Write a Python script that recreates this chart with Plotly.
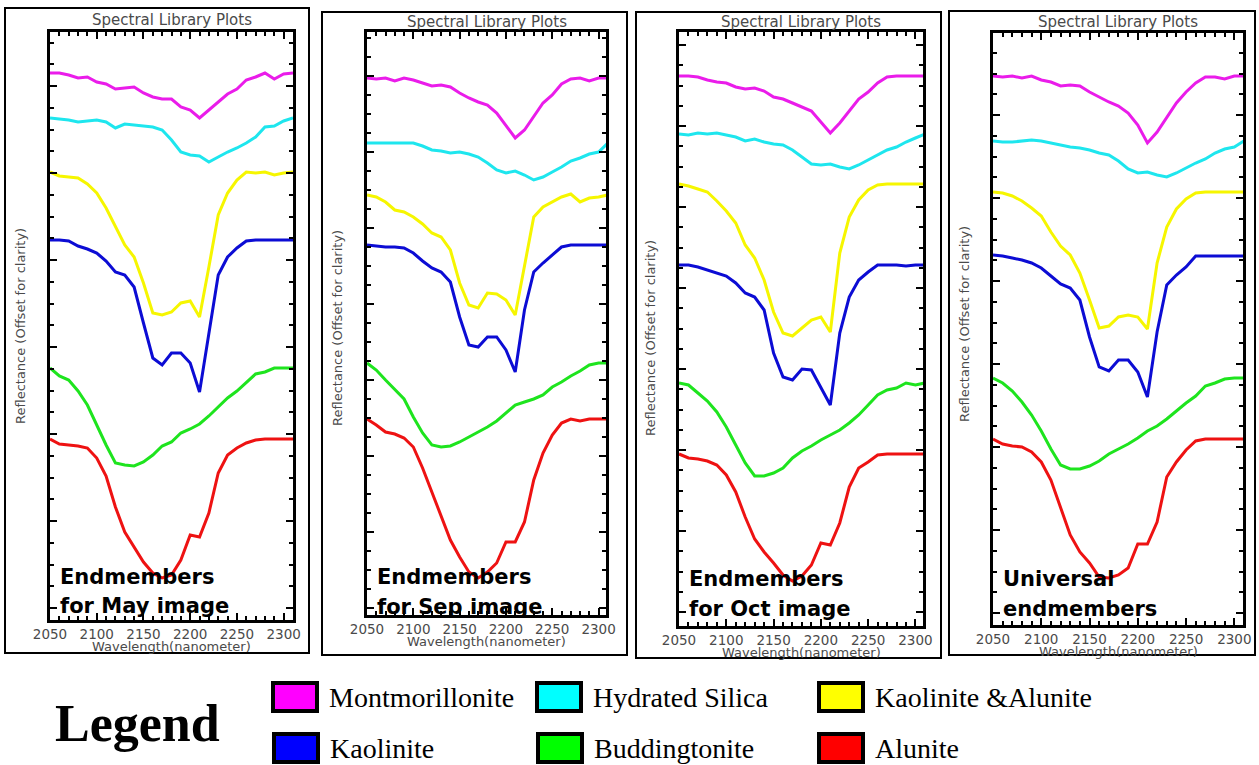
import plotly.graph_objects as go

# ---------------------------------------------------------------- data
WAVELENGTH = [2050, 2060, 2070, 2080, 2090, 2100, 2110, 2120, 2130, 2140,
              2150, 2160, 2170, 2180, 2190, 2200, 2210, 2220, 2230, 2240,
              2250, 2260, 2270, 2280, 2290, 2300, 2310]

MINERALS = ["Montmorillonite", "Hydrated Silica", "Kaolinite &Alunite",
            "Kaolinite", "Buddingtonite", "Alunite"]

# Offset reflectance, May image endmembers
MAY_MONTMORILLONITE = [0.547, 0.547, 0.545, 0.542, 0.543, 0.538, 0.536, 0.531, 0.532, 0.533, 0.527, 0.523, 0.521, 0.521,
                       0.513, 0.510, 0.502, 0.510, 0.518, 0.526, 0.531, 0.540, 0.543, 0.547, 0.541, 0.546, 0.547]
MAY_HYDRATED_SILICA = [0.502, 0.501, 0.500, 0.498, 0.499, 0.500, 0.498, 0.492, 0.496, 0.495, 0.494, 0.493, 0.490, 0.480,
                       0.468, 0.465, 0.464, 0.458, 0.463, 0.468, 0.472, 0.477, 0.483, 0.493, 0.494, 0.499, 0.502]
MAY_KAOLINITE_ALUNITE = [0.448, 0.444, 0.443, 0.442, 0.436, 0.427, 0.412, 0.393, 0.375, 0.363, 0.337, 0.307, 0.305, 0.308,
                         0.317, 0.319, 0.303, 0.353, 0.405, 0.427, 0.440, 0.448, 0.447, 0.448, 0.445, 0.447, 0.448]
MAY_KAOLINITE = [0.380, 0.380, 0.379, 0.374, 0.371, 0.367, 0.359, 0.348, 0.345, 0.333, 0.297, 0.262, 0.255, 0.267,
                 0.267, 0.257, 0.228, 0.287, 0.345, 0.363, 0.372, 0.379, 0.380, 0.380, 0.380, 0.380, 0.380]
MAY_BUDDINGTONITE = [0.252, 0.244, 0.240, 0.229, 0.215, 0.195, 0.175, 0.157, 0.155, 0.154, 0.158, 0.165, 0.174, 0.178,
                     0.187, 0.191, 0.196, 0.204, 0.213, 0.222, 0.229, 0.238, 0.246, 0.248, 0.252, 0.252, 0.252]
MAY_ALUNITE = [0.181, 0.176, 0.175, 0.174, 0.172, 0.162, 0.144, 0.113, 0.088, 0.073, 0.058, 0.047, 0.042, 0.045,
               0.060, 0.085, 0.083, 0.107, 0.147, 0.165, 0.172, 0.177, 0.180, 0.181, 0.181, 0.181, 0.181]

# Offset reflectance, September image endmembers
SEP_MONTMORILLONITE = [0.537, 0.536, 0.537, 0.534, 0.537, 0.535, 0.532, 0.529, 0.530, 0.528, 0.522, 0.517, 0.513, 0.510,
                       0.502, 0.490, 0.477, 0.485, 0.498, 0.512, 0.520, 0.531, 0.536, 0.537, 0.534, 0.537, 0.537]
SEP_HYDRATED_SILICA = [0.472, 0.472, 0.472, 0.472, 0.472, 0.472, 0.469, 0.465, 0.464, 0.462, 0.463, 0.461, 0.458, 0.452,
                       0.445, 0.442, 0.444, 0.440, 0.435, 0.438, 0.443, 0.448, 0.454, 0.457, 0.461, 0.463, 0.472]
SEP_KAOLINITE_ALUNITE = [0.420, 0.418, 0.413, 0.405, 0.403, 0.398, 0.391, 0.382, 0.378, 0.365, 0.332, 0.310, 0.307, 0.322,
                         0.321, 0.315, 0.300, 0.348, 0.398, 0.408, 0.413, 0.418, 0.421, 0.413, 0.417, 0.418, 0.420]
SEP_KAOLINITE = [0.370, 0.369, 0.368, 0.368, 0.367, 0.362, 0.354, 0.347, 0.343, 0.333, 0.298, 0.270, 0.268, 0.278,
                 0.278, 0.265, 0.243, 0.305, 0.343, 0.352, 0.360, 0.368, 0.370, 0.370, 0.370, 0.370, 0.370]
SEP_BUDDINGTONITE = [0.252, 0.245, 0.235, 0.226, 0.216, 0.198, 0.182, 0.170, 0.168, 0.169, 0.173, 0.178, 0.183, 0.188,
                     0.194, 0.202, 0.210, 0.213, 0.216, 0.220, 0.228, 0.233, 0.239, 0.244, 0.250, 0.252, 0.252]
SEP_ALUNITE = [0.196, 0.190, 0.183, 0.181, 0.177, 0.168, 0.147, 0.123, 0.097, 0.075, 0.058, 0.043, 0.037, 0.043,
               0.052, 0.073, 0.073, 0.093, 0.135, 0.162, 0.180, 0.192, 0.196, 0.194, 0.196, 0.196, 0.196]

# Offset reflectance, October image endmembers
OCT_MONTMORILLONITE = [0.550, 0.550, 0.549, 0.546, 0.544, 0.543, 0.539, 0.537, 0.538, 0.535, 0.529, 0.527, 0.523, 0.519,
                       0.515, 0.504, 0.493, 0.503, 0.515, 0.527, 0.534, 0.543, 0.549, 0.550, 0.550, 0.550, 0.550]
OCT_HYDRATED_SILICA = [0.492, 0.491, 0.493, 0.492, 0.493, 0.491, 0.489, 0.485, 0.487, 0.484, 0.482, 0.481, 0.476, 0.469,
                       0.462, 0.461, 0.462, 0.459, 0.457, 0.461, 0.466, 0.471, 0.476, 0.479, 0.484, 0.488, 0.492]
OCT_KAOLINITE_ALUNITE = [0.442, 0.440, 0.437, 0.434, 0.425, 0.415, 0.403, 0.381, 0.368, 0.346, 0.314, 0.293, 0.290, 0.298,
                         0.306, 0.309, 0.294, 0.373, 0.409, 0.426, 0.436, 0.441, 0.442, 0.442, 0.442, 0.442, 0.442]
OCT_KAOLINITE = [0.361, 0.361, 0.359, 0.356, 0.353, 0.350, 0.343, 0.333, 0.329, 0.316, 0.273, 0.249, 0.246, 0.257,
                 0.256, 0.239, 0.221, 0.293, 0.329, 0.346, 0.354, 0.361, 0.361, 0.361, 0.360, 0.361, 0.361]
OCT_BUDDINGTONITE = [0.243, 0.241, 0.233, 0.225, 0.214, 0.199, 0.181, 0.163, 0.150, 0.150, 0.153, 0.158, 0.168, 0.175,
                     0.180, 0.186, 0.191, 0.196, 0.203, 0.211, 0.221, 0.231, 0.236, 0.238, 0.243, 0.241, 0.243]
OCT_ALUNITE = [0.172, 0.168, 0.167, 0.165, 0.161, 0.151, 0.134, 0.109, 0.087, 0.074, 0.063, 0.051, 0.045, 0.050,
               0.061, 0.083, 0.081, 0.103, 0.139, 0.158, 0.164, 0.171, 0.172, 0.172, 0.172, 0.172, 0.172]

# Offset reflectance, universal endmembers
UNI_MONTMORILLONITE = [0.549, 0.548, 0.549, 0.547, 0.549, 0.545, 0.543, 0.539, 0.540, 0.539, 0.533, 0.528, 0.523, 0.519,
                       0.512, 0.500, 0.482, 0.493, 0.508, 0.522, 0.533, 0.542, 0.548, 0.548, 0.546, 0.549, 0.549]
UNI_HYDRATED_SILICA = [0.484, 0.483, 0.483, 0.484, 0.485, 0.484, 0.482, 0.480, 0.478, 0.477, 0.475, 0.472, 0.470, 0.464,
                       0.456, 0.452, 0.453, 0.450, 0.448, 0.452, 0.457, 0.462, 0.466, 0.472, 0.476, 0.478, 0.484]
UNI_KAOLINITE_ALUNITE = [0.433, 0.432, 0.429, 0.424, 0.417, 0.409, 0.393, 0.379, 0.370, 0.352, 0.325, 0.297, 0.299, 0.308,
                         0.310, 0.308, 0.296, 0.362, 0.398, 0.416, 0.426, 0.432, 0.433, 0.433, 0.433, 0.433, 0.433]
UNI_KAOLINITE = [0.370, 0.369, 0.367, 0.365, 0.362, 0.357, 0.349, 0.341, 0.337, 0.325, 0.288, 0.258, 0.254, 0.265,
                 0.265, 0.253, 0.228, 0.293, 0.340, 0.350, 0.358, 0.369, 0.369, 0.369, 0.369, 0.369, 0.369]
UNI_BUDDINGTONITE = [0.247, 0.242, 0.234, 0.223, 0.210, 0.194, 0.176, 0.160, 0.156, 0.156, 0.159, 0.164, 0.171, 0.176,
                     0.181, 0.187, 0.194, 0.199, 0.206, 0.214, 0.222, 0.229, 0.239, 0.242, 0.246, 0.247, 0.247]
UNI_ALUNITE = [0.186, 0.181, 0.179, 0.178, 0.173, 0.163, 0.145, 0.117, 0.090, 0.073, 0.062, 0.048, 0.047, 0.050,
               0.057, 0.081, 0.081, 0.103, 0.148, 0.163, 0.175, 0.184, 0.186, 0.186, 0.186, 0.186, 0.186]

# ---------------------------------------------------------------- style
W, H = 1259, 765
LINE_COLORS = ["#ea1cea", "#1ee6ee", "#f6f600", "#0c0cd4", "#1ee41e", "#ee1212"]
SWATCH_COLORS = ["#ff00ff", "#00ffff", "#ffff00", "#0000ff", "#00ff00", "#ff0000"]
AXIS_FONT = "DejaVu Sans"
AXIS_GREY = "#4a4a4a"


def fx(p):
    return p / W


def fy(p):
    return 1 - p / H


# frame box, plot area (left, top, right, bottom in pixels), x extent, y scale
PANELS = [
    dict(series=[MAY_MONTMORILLONITE, MAY_HYDRATED_SILICA, MAY_KAOLINITE_ALUNITE,
                 MAY_KAOLINITE, MAY_BUDDINGTONITE, MAY_ALUNITE],
         caption=["Endmembers", "for May image"], cap_y=(577, 606),
         box=(5, 8, 309, 653), area=(50, 32, 293, 620), xmax=2310,
         ymax=0.588, tick0=0.012, dtick=0.087, ytitle_x=20, ytitle_y=326),
    dict(series=[SEP_MONTMORILLONITE, SEP_HYDRATED_SILICA, SEP_KAOLINITE_ALUNITE,
                 SEP_KAOLINITE, SEP_BUDDINGTONITE, SEP_ALUNITE],
         caption=["Endmembers", "for Sep image"], cap_y=(577, 607),
         box=(322, 12, 627, 655), area=(367, 32, 606, 615), xmax=2308,
         ymax=0.583, tick0=0.007, dtick=0.076, ytitle_x=337, ytitle_y=328),
    dict(series=[OCT_MONTMORILLONITE, OCT_HYDRATED_SILICA, OCT_KAOLINITE_ALUNITE,
                 OCT_KAOLINITE, OCT_BUDDINGTONITE, OCT_ALUNITE],
         caption=["Endmembers", "for Oct image"], cap_y=(579, 609),
         box=(636, 12, 941, 658), area=(679, 32, 923, 626), xmax=2308,
         ymax=0.594, tick0=0.014, dtick=0.081, ytitle_x=650, ytitle_y=338),
    dict(series=[UNI_MONTMORILLONITE, UNI_HYDRATED_SILICA, UNI_KAOLINITE_ALUNITE,
                 UNI_KAOLINITE, UNI_BUDDINGTONITE, UNI_ALUNITE],
         caption=["Universal", "endmembers"], cap_y=(579, 609),
         box=(949, 11, 1255, 655), area=(993, 33, 1243, 625), xmax=2309,
         ymax=0.592, tick0=0.012, dtick=0.083, ytitle_x=964, ytitle_y=324),
]

fig = go.Figure()
shapes = []
annotations = []
layout_axes = {}


def note(text, x, y, size, family=AXIS_FONT, color=AXIS_GREY, xanchor="center", angle=0):
    return dict(text=text, x=fx(x), y=fy(y), xref="paper", yref="paper", showarrow=False,
                xanchor=xanchor, yanchor="middle", textangle=angle,
                font=dict(family=family, size=size, color=color))


for i, pan in enumerate(PANELS, start=1):
    xa = "x" if i == 1 else f"x{i}"
    ya = "y" if i == 1 else f"y{i}"
    for name, vals, col in zip(MINERALS, pan["series"], LINE_COLORS):
        fig.add_trace(go.Scatter(x=WAVELENGTH, y=vals, mode="lines", name=name,
                                 line=dict(color=col, width=3), xaxis=xa, yaxis=ya,
                                 showlegend=False, hoverinfo="x+y+name"))
    l, t, r, b = pan["area"]
    common = dict(showline=True, linecolor="black", linewidth=2.5, mirror="allticks",
                  ticks="inside", tickcolor="black", tickwidth=1.5, showgrid=False,
                  zeroline=False)
    layout_axes["xaxis" if i == 1 else f"xaxis{i}"] = dict(
        **common, domain=[fx(l), fx(r)], range=[2050, pan["xmax"]], anchor=ya,
        tick0=2050, dtick=50, ticklen=7,
        minor=dict(tick0=2050, dtick=10, ticks="inside", ticklen=4, tickcolor="black", tickwidth=1.5),
        tickfont=dict(family=AXIS_FONT, size=13.5, color=AXIS_GREY))
    layout_axes["yaxis" if i == 1 else f"yaxis{i}"] = dict(
        **common, domain=[fy(b), fy(t)], range=[0, pan["ymax"]], anchor=xa,
        tick0=pan["tick0"], dtick=pan["dtick"], ticklen=7, showticklabels=False,
        minor=dict(tick0=pan["tick0"], dtick=pan["dtick"] / 4, ticks="inside", ticklen=4,
                   tickcolor="black", tickwidth=1.5))

    bl, bt, br, bb = pan["box"]
    shapes.append(dict(type="rect", xref="paper", yref="paper",
                       x0=fx(bl), x1=fx(br), y0=fy(bb), y1=fy(bt),
                       line=dict(color="black", width=2), fillcolor="rgba(0,0,0,0)"))
    cx = (l + r) / 2
    annotations.append(note("Spectral Library Plots", cx, (bt + t) / 2, 15))
    annotations.append(note("Wavelength(nanometer)", cx, b + 26, 13))
    annotations.append(note("Reflectance (Offset for clarity)", pan["ytitle_x"], pan["ytitle_y"], 13,
                            angle=-90))
    for line_text, ly in zip(pan["caption"], pan["cap_y"]):
        annotations.append(note(f"<b>{line_text}</b>", l + 8, ly, 21, family="DejaVu Sans",
                                color="black", xanchor="left"))

# ---------------------------------------------------------------- legend
annotations.append(note("<b>Legend</b>", 137, 723, 52, family="Liberation Serif", color="black"))
LEGEND_SLOTS = [(271, 697), (535, 697), (817, 697), (272, 748), (536, 748), (817, 748)]
for name, col, (sx, sy) in zip(MINERALS, SWATCH_COLORS, LEGEND_SLOTS):
    shapes.append(dict(type="rect", xref="paper", yref="paper",
                       x0=fx(sx + 2), x1=fx(sx + 46), y0=fy(sy + 14), y1=fy(sy - 14),
                       line=dict(color="black", width=4), fillcolor=col))
    annotations.append(note(name, sx + 56, sy, 28, family="Liberation Serif", color="black",
                            xanchor="left"))

fig.update_layout(width=W, height=H, margin=dict(l=0, r=0, t=0, b=0, autoexpand=False),
                  paper_bgcolor="white", plot_bgcolor="white",
                  shapes=shapes, annotations=annotations, showlegend=False,
                  **layout_axes)

fig.write_html("out.html")
